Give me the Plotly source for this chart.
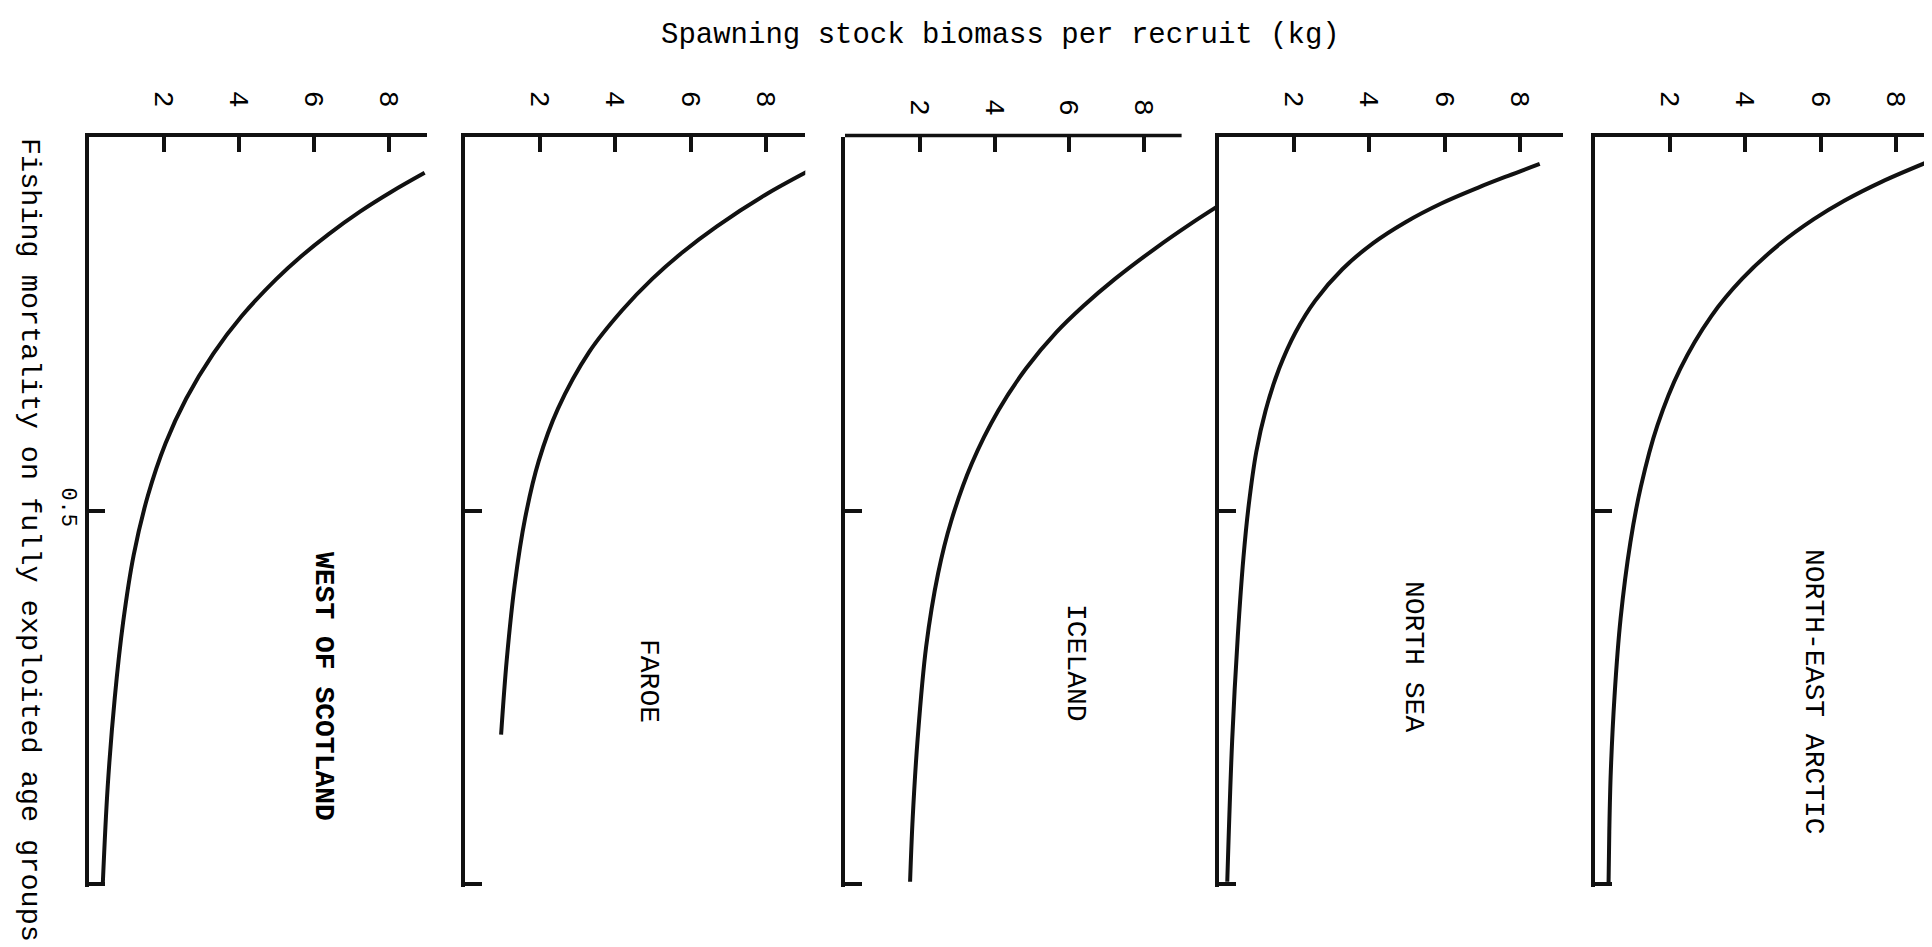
import plotly.graph_objects as go

# ---- data (F = fishing mortality, SSB = kg per recruit)
stocks = ["<b>WEST OF SCOTLAND</b>", "FAROE", "ICELAND", "NORTH SEA", "NORTH-EAST ARCTIC"]

wos_f = [0.048, 0.073, 0.10, 0.13, 0.16, 0.19, 0.24, 0.29, 0.35, 0.41, 0.48, 0.56, 0.65, 0.75, 0.87, 1.0]
wos_ssb = [8.94, 8.07, 7.22, 6.39, 5.65, 5.00, 4.07, 3.32, 2.60, 2.05, 1.58, 1.20, 0.92, 0.70, 0.51, 0.38]

faroe_f = [0.042, 0.078, 0.12, 0.155, 0.19, 0.232, 0.288, 0.364, 0.434, 0.51, 0.60, 0.70, 0.80]
faroe_ssb = [9.27, 7.97, 6.69, 5.77, 4.98, 4.18, 3.30, 2.47, 1.96, 1.60, 1.32, 1.11, 0.96]

iceland_f = [0.092, 0.117, 0.149, 0.19, 0.226, 0.261, 0.31, 0.366, 0.437, 0.514, 0.584, 0.682, 0.807, 0.912, 0.997]
iceland_ssb = [9.99, 9.22, 8.30, 7.22, 6.38, 5.66, 4.84, 4.10, 3.39, 2.84, 2.49, 2.17, 1.94, 1.81, 1.74]

nsea_f = [0.036, 0.052, 0.068, 0.089, 0.114, 0.142, 0.177, 0.219, 0.261, 0.31, 0.366, 0.422, 0.493, 0.563, 0.668, 0.808, 0.997]
nsea_ssb = [8.53, 7.69, 6.88, 5.91, 4.96, 4.10, 3.28, 2.56, 2.04, 1.60, 1.24, 0.99, 0.79, 0.65, 0.50, 0.35, 0.22]

nea_f = [0.034, 0.06, 0.085, 0.11, 0.143, 0.19, 0.24, 0.31, 0.386, 0.468, 0.543, 0.645, 0.748, 0.85, 0.93, 1.0]
nea_ssb = [8.82, 7.62, 6.64, 5.82, 4.92, 3.91, 3.09, 2.27, 1.66, 1.22, 0.94, 0.68, 0.52, 0.42, 0.38, 0.36]

ssb_ticks = [2, 4, 6, 8]
f_ticks = [0.5, 1.0]
f_ticktext = ["0.5", ""]

title_text = "Spawning stock biomass per recruit (kg)"
ylabel_text = "Fishing mortality on fully exploited age groups"

series = [(wos_f, wos_ssb), (faroe_f, faroe_ssb), (iceland_f, iceland_ssb),
          (nsea_f, nsea_ssb), (nea_f, nea_ssb)]

# ---- layout geometry (pixels)
W, H = 1932, 947
FONT = "Liberation Mono, Courier New, monospace"
x0_px = [80.5, 457, 837, 1211, 1587]
px_per_unit = [37.6, 37.6, 37.4, 37.6, 37.6]
x_max = [9.0, 9.05, 10.0, 9.15, 9.17]
axis_line_end = [None, None, 9.0, None, None]
label_x_px = [316, 641, 1068, 1406, 1806]
label_y_px = [678, 673, 655, 648, 684]
y_top_px, y_bot_px = 129, 879
ydom = [1 - y_bot_px / H, 1 - y_top_px / H]

fig = go.Figure()
layout = dict(width=W, height=H, margin=dict(l=0, r=0, t=0, b=0, pad=0),
              template="none", autosize=False,
              paper_bgcolor="white", plot_bgcolor="white", showlegend=False,
              font=dict(family=FONT, color="black"))
shapes = []
annotations = []

for i, (name, (f, ssb)) in enumerate(zip(stocks, series)):
    n = "" if i == 0 else str(i + 1)
    xa, ya = "x" + n, "y" + n
    fig.add_trace(go.Scatter(x=ssb, y=f, mode="lines", xaxis=xa, yaxis=ya,
                             line=dict(color="#111111", width=4, shape="spline", smoothing=1.0),
                             hoverinfo="skip"))
    x1_px = x0_px[i] + x_max[i] * px_per_unit[i]
    layout["xaxis" + n] = dict(
        domain=[x0_px[i] / W, min(x1_px, W) / W], range=[0, x_max[i]], anchor=ya,
        side="top", showgrid=False, zeroline=False, automargin=False,
        showline=axis_line_end[i] is None, linecolor="#111111", linewidth=3.5,
        ticks="inside", ticklen=15, tickwidth=3.5, tickcolor="#111111",
        tickvals=ssb_ticks, ticktext=[str(t) for t in ssb_ticks], tickangle=90,
        ticklabelstandoff=16, tickfont=dict(family=FONT, size=28, color="black"),
        fixedrange=True)
    layout["yaxis" + n] = dict(
        domain=ydom, range=[1.004, 0.0], anchor=xa, showgrid=False, zeroline=False,
        automargin=False,
        showline=True, linecolor="#111111", linewidth=3.5,
        ticks="inside", ticklen=17, tickwidth=3.5, tickcolor="#111111",
        tickvals=f_ticks, ticktext=f_ticktext if i == 0 else ["", ""],
        tickangle=90, ticklabelstandoff=-4,
        tickfont=dict(family=FONT, size=22, color="black"), fixedrange=True)
    if axis_line_end[i] is not None:
        shapes.append(dict(type="line", xref=xa, yref="paper", x0=0, x1=axis_line_end[i],
                           y0=ydom[1] + 1.5 / H, y1=ydom[1] + 1.5 / H,
                           line=dict(color="#111111", width=3.5)))
    annotations.append(dict(text=name, x=label_x_px[i] / W, y=1 - label_y_px[i] / H,
                            xref="paper", yref="paper", showarrow=False, textangle=90,
                            font=dict(family=FONT, size=28, color="black"),
                            xanchor="center", yanchor="middle"))

annotations.append(dict(text=title_text, x=992 / W, y=1 - 27 / H, xref="paper", yref="paper",
                        showarrow=False, font=dict(family=FONT, size=29, color="black"),
                        xanchor="center", yanchor="middle"))
annotations.append(dict(text=ylabel_text, x=22 / W, y=1 - 532 / H, xref="paper", yref="paper",
                        showarrow=False, textangle=90,
                        font=dict(family=FONT, size=28.5, color="black"),
                        xanchor="center", yanchor="middle"))

layout["shapes"] = shapes
layout["annotations"] = annotations
fig.update_layout(**layout)
fig.write_html("out.html", config={"displayModeBar": False})
